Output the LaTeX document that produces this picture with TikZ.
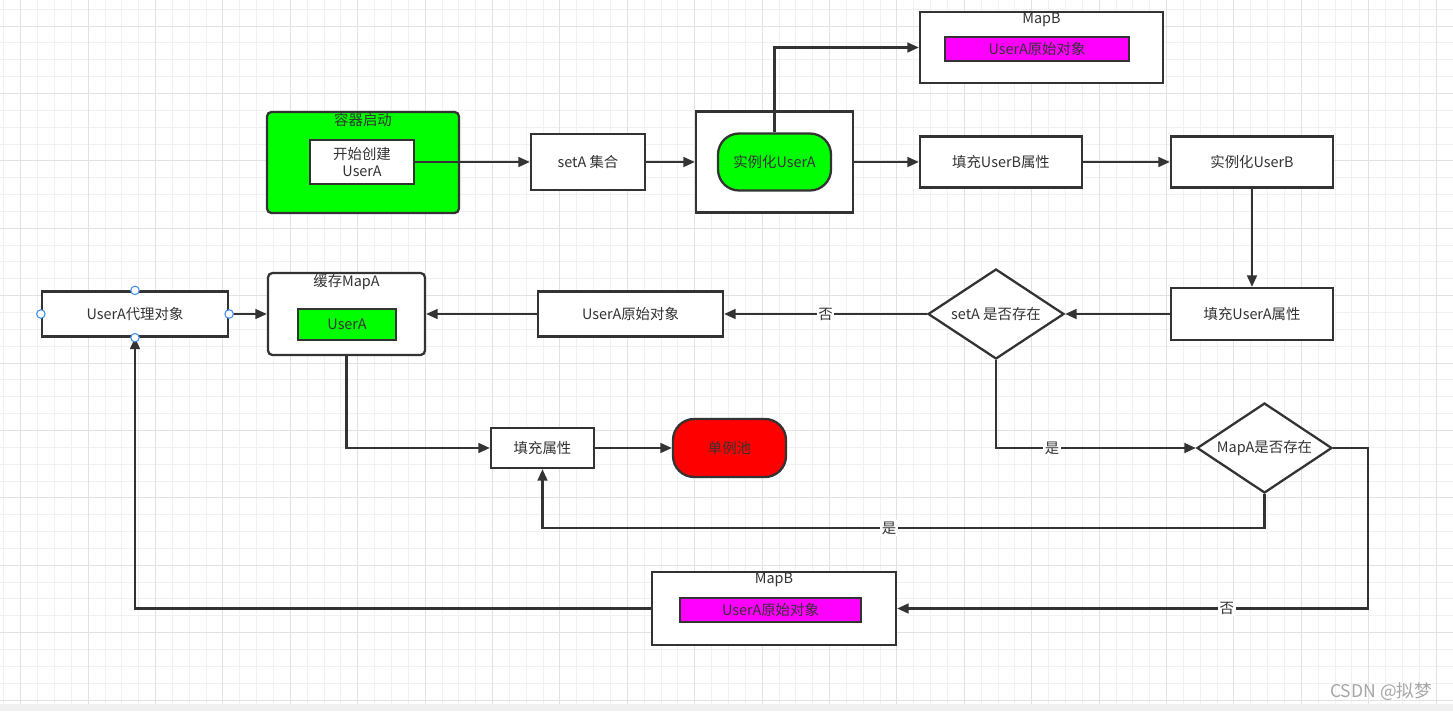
\documentclass[tikz,border=0pt]{standalone}
\usepackage{fontspec}
\setmainfont{Noto Sans CJK SC}
\usetikzlibrary{arrows.meta,shapes.geometric,positioning}
\definecolor{ink}{HTML}{333333}
\definecolor{boxgreen}{HTML}{00FF00}
\definecolor{boxred}{HTML}{FF0000}
\definecolor{boxpink}{HTML}{FF00FF}
\definecolor{handle}{HTML}{3D8DF5}
\definecolor{gridminor}{HTML}{F1F1F1}
\definecolor{gridmajor}{HTML}{E2E2E2}

\begin{document}
\begin{tikzpicture}[x=0.02cm,y=-0.02cm,font=\fontsize{8.2pt}{9.6pt}\selectfont,text=ink,
  >={Triangle[length=6.5pt,width=5.5pt]},
  box/.style={draw=ink,line width=1.3pt,fill=white,inner sep=1pt,align=center},
  grp/.style={box,rounded corners=2.5pt},
  pill/.style={box,rounded corners=0.42cm},
  dia/.style={diamond,draw=ink,line width=1.3pt,fill=white,shape aspect=1.5,inner sep=0pt},
  line/.style={draw=ink,line width=1.3pt},
  tag/.style={fill=white,inner sep=1pt},
  hdl/.style={circle,draw=handle,fill=white,line width=0.6pt,inner sep=0pt,minimum size=0.17cm},
  head/.style={anchor=north,inner sep=1pt,text=ink}]
  \useasboundingbox[fill=white] (0,0) rectangle (1453,711);
  \foreach \i in {0,...,86} \draw[gridminor,line width=0.5pt] ({3.85+\i*16.85},0) -- ++(0,711);
  \foreach \i in {0,...,42} \draw[gridminor,line width=0.5pt] (0,{9.15+\i*16.85}) -- ++(1453,0);
  \foreach \i in {0,...,21} \draw[gridmajor,line width=0.5pt] ({20.7+\i*67.4},0) -- ++(0,711);
  \foreach \i in {0,...,10} \draw[gridmajor,line width=0.5pt] (0,{26+\i*67.4}) -- ++(1453,0);
  \fill[gray!12] (0,704) rectangle (1453,711);

  \node[grp,fill=boxgreen,minimum width=3.84cm,minimum height=2.02cm,label={[head]north:容器启动}] (boot) at (363,162.5) {};
  \node[box,minimum width=2.08cm,minimum height=0.88cm] (begin) at (362,162) {开始创建\\UserA};
  \node[box,minimum width=2.28cm,minimum height=1.12cm] (setA) at (588,162) {setA 集合};
  \node[box,minimum width=3.14cm,minimum height=2.02cm] (instAbox) at (774.5,162) {};
  \node[pill,fill=boxgreen,minimum width=2.26cm,minimum height=1.14cm] (instA) at (774.5,162) {实例化UserA};
  \node[box,minimum width=4.86cm,minimum height=1.42cm,label={[head]north:MapB}] (mapBtop) at (1041.5,47.5) {};
  \node[box,fill=boxpink,minimum width=3.68cm,minimum height=0.48cm] (rawBtop) at (1037,49) {UserA原始对象};
  \node[box,minimum width=3.24cm,minimum height=1.02cm] (fillB) at (1001,162) {填充UserB属性};
  \node[box,minimum width=3.24cm,minimum height=1.02cm] (instB) at (1252,162) {实例化UserB};
  \node[box,minimum width=3.24cm,minimum height=1.04cm] (fillA) at (1252,314) {填充UserA属性};
  \node[dia,minimum width=2.72cm,minimum height=1.8cm] (setAq) at (996,314) {setA 是否存在};
  \node[box,minimum width=3.70cm,minimum height=0.90cm] (rawA) at (630.5,314) {UserA原始对象};
  \node[grp,minimum width=3.14cm,minimum height=1.64cm,label={[head]north:缓存MapA}] (mapA) at (346.5,314) {};
  \node[box,fill=boxgreen,minimum width=1.96cm,minimum height=0.62cm] (cacheA) at (347,324.5) {UserA};
  \node[box,minimum width=3.72cm,minimum height=0.90cm] (proxy) at (135,314) {UserA代理对象};
  \node[box,minimum width=2.06cm,minimum height=0.80cm] (fill) at (542.5,448) {填充属性};
  \node[pill,fill=boxred,minimum width=2.26cm,minimum height=1.16cm] (pool) at (729.5,448) {单例池};
  \node[dia,minimum width=2.70cm,minimum height=1.8cm] (mapAq) at (1264.5,448) {MapA是否存在};
  \node[box,minimum width=4.88cm,minimum height=1.46cm,label={[head]north:MapB}] (mapBbot) at (774,608.5) {};
  \node[box,fill=boxpink,minimum width=3.62cm,minimum height=0.48cm] (rawBbot) at (770.5,610) {UserA原始对象};

  \draw[line,->] (begin) -- (setA);
  \draw[line,->] (setA) -- (instAbox);
  \draw[line,->] (instAbox) -- (fillB);
  \draw[line,->] (instA.north) |- (mapBtop.west);
  \draw[line,->] (fillB) -- (instB);
  \draw[line,->] (instB) -- (fillA);
  \draw[line,->] (fillA) -- (setAq);
  \draw[line,->] (setAq) -- node[tag]{否} (rawA);
  \draw[line,->] (rawA) -- (mapA);
  \draw[line,->] (proxy) -- (mapA);
  \draw[line,->] (mapA.south) |- (fill);
  \draw[line,->] (fill) -- (pool);
  \draw[line,->] (setAq.south) |- node[tag,pos=0.64]{是} (mapAq.west);
  \draw[line,->] (mapAq.south) -- ++(0,34) -| node[tag,pos=0.26]{是} (fill.south);
  \draw[line,->] (mapAq.east) -- ++(35,0) |- node[tag,pos=0.65]{否} (mapBbot.east);
  \draw[line,->] (mapBbot.west) -| (proxy.south);

  \node[hdl] (hw) at (proxy.west) {};
  \node[hdl] (he) at (proxy.east) {};
  \node[hdl] (hn) at (proxy.north) {};
  \node[hdl] (hs) at (proxy.south) {};
  \node[anchor=east,text=gray!70,font=\fontsize{10pt}{12pt}\selectfont] (mark) at (1438,692) {CSDN @拟梦};
\end{tikzpicture}
\end{document}
